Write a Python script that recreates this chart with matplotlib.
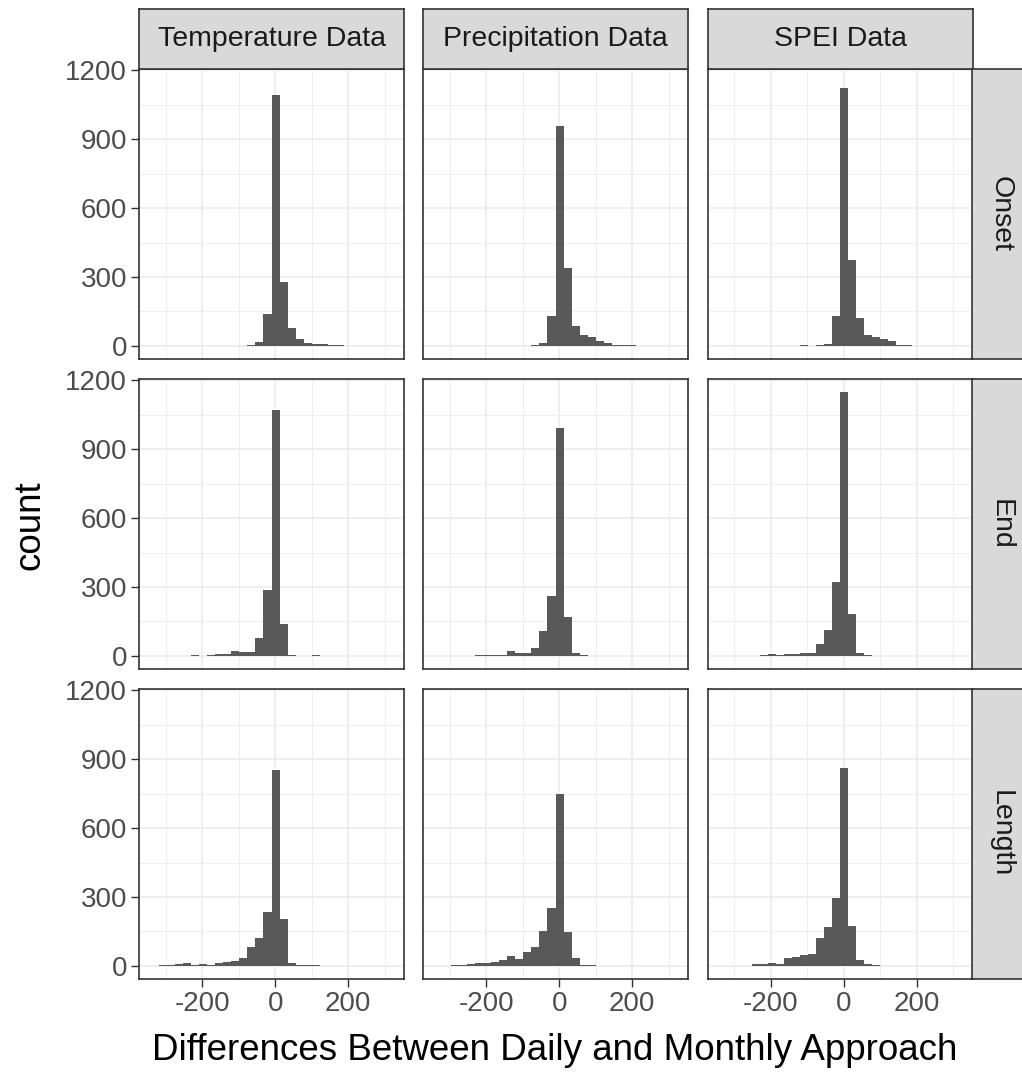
import matplotlib

matplotlib.use("Agg")
import matplotlib.ticker as ticker
from matplotlib import pyplot as plt

plt.rcParams["font.family"] = ["Liberation Sans", "DejaVu Sans"]
plt.rcParams["axes.unicode_minus"] = False

# histogram bins (left edges, width 22)
bin_left = [
    -340, -318, -296, -274, -252, -230, -208, -186, -164, -142,
    -120, -98, -76, -54, -32, -10, 12, 34, 56, 78,
    100, 122, 144, 166, 188, 210, 232, 254, 276, 298,
]
bin_width = 22

datasets = ["Temperature Data", "Precipitation Data", "SPEI Data"]
measures = ["Onset", "End", "Length"]

temp_onset = [0, 0, 0, 0, 0, 0, 0, 0, 0, 0, 0, 1, 2, 15, 139, 1091, 280, 77, 29, 14, 10, 7, 4, 2, 1, 0, 0, 0, 0, 0]
precip_onset = [0, 0, 0, 0, 0, 0, 0, 0, 0, 0, 0, 1, 2, 12, 128, 957, 338, 87, 48, 38, 19, 14, 4, 2, 2, 1, 0, 0, 0, 0]
spei_onset = [0, 0, 0, 0, 0, 0, 0, 0, 0, 0, 2, 1, 2, 9, 128, 1125, 374, 120, 48, 38, 29, 19, 3, 2, 1, 1, 0, 0, 0, 0]

temp_end = [0, 0, 0, 0, 1, 2, 1, 3, 8, 10, 20, 15, 15, 77, 287, 1072, 139, 4, 1, 1, 2, 0, 0, 0, 0, 0, 0, 0, 0, 0]
precip_end = [0, 0, 0, 0, 1, 2, 3, 4, 5, 23, 12, 14, 33, 106, 261, 994, 171, 14, 2, 1, 0, 0, 0, 0, 0, 0, 0, 0, 0, 0]
spei_end = [0, 0, 0, 0, 0, 2, 7, 3, 7, 10, 12, 14, 52, 113, 320, 1149, 181, 14, 4, 1, 1, 0, 0, 0, 0, 0, 0, 0, 0, 0]

temp_length = [0, 2, 3, 6, 14, 5, 7, 5, 14, 17, 22, 32, 80, 123, 236, 855, 205, 12, 3, 2, 2, 1, 1, 0, 0, 0, 0, 0, 0, 0]
precip_length = [1, 1, 3, 4, 7, 12, 12, 17, 25, 43, 29, 61, 82, 152, 250, 751, 149, 32, 4, 2, 1, 0, 0, 0, 0, 0, 0, 0, 0, 0]
spei_length = [0, 0, 0, 1, 7, 8, 14, 7, 36, 38, 46, 50, 120, 170, 296, 864, 173, 25, 7, 2, 1, 0, 0, 0, 0, 0, 0, 0, 0, 0]

counts = [
    [temp_onset, precip_onset, spei_onset],
    [temp_end, precip_end, spei_end],
    [temp_length, precip_length, spei_length],
]

x_major = [-200, 0, 200]
y_major = [0, 300, 600, 900, 1200]

W, H = 1022, 1075
fig = plt.figure(figsize=(W / 100, H / 100), dpi=100)


def px_axes(x0, y0, x1, y1):
    return fig.add_axes([x0 / W, 1 - y1 / H, (x1 - x0) / W, (y1 - y0) / H])


col_left = [139, 423, 707.5]
col_w = 265
row_top = [69, 379, 689]
row_h = 290

border = "#333333"
x_lo = bin_left[0]
x_hi = bin_left[-1] + bin_width
x_pad = 0.05 * (x_hi - x_lo)
y_max = max(max(c) for row in counts for c in row)

for r in range(3):
    for c in range(3):
        ax = px_axes(col_left[c], row_top[r], col_left[c] + col_w, row_top[r] + row_h)
        ax.bar(bin_left, counts[r][c], width=bin_width, align="edge",
               color="#595959", linewidth=0, zorder=3)
        ax.set_xlim(x_lo - x_pad, x_hi + x_pad)
        ax.set_ylim(-0.05 * y_max, 1.05 * y_max)
        ax.xaxis.set_major_locator(ticker.FixedLocator(x_major))
        ax.xaxis.set_minor_locator(ticker.FixedLocator([-300, -100, 100, 300]))
        ax.yaxis.set_major_locator(ticker.FixedLocator(y_major))
        ax.yaxis.set_minor_locator(ticker.FixedLocator([150, 450, 750, 1050]))
        ax.grid(True, which="major", color="#EBEBEB", linewidth=1.1, zorder=0)
        ax.grid(True, which="minor", color="#EBEBEB", linewidth=0.55, zorder=0)
        ax.set_axisbelow(True)
        for s in ax.spines.values():
            s.set_color(border)
            s.set_linewidth(1.2)
        ax.tick_params(which="minor", length=0)
        ax.tick_params(which="major", length=5.5, width=1.0, color=border,
                       labelsize=20, labelcolor="#4D4D4D", pad=3)
        if c != 0:
            ax.tick_params(axis="y", which="major", length=0, labelleft=False)
        if r != 2:
            ax.tick_params(axis="x", which="major", length=0, labelbottom=False)

        # top strips
        if r == 0:
            st = px_axes(col_left[c], 9, col_left[c] + col_w, row_top[0])
            st.set_facecolor("#D9D9D9")
            st.set_xticks([])
            st.set_yticks([])
            for s in st.spines.values():
                s.set_color(border)
                s.set_linewidth(1.2)
            st.text(0.5, 0.5, datasets[c], ha="center", va="center",
                    fontsize=20.5, color="#1A1A1A", transform=st.transAxes)

    # right strips
    st = px_axes(972, row_top[r], 1030, row_top[r] + row_h)
    st.set_facecolor("#D9D9D9")
    st.set_xticks([])
    st.set_yticks([])
    for s in st.spines.values():
        s.set_color(border)
        s.set_linewidth(1.2)
    st.text(29 / 58, 0.5, measures[r], ha="center", va="center", rotation=-90,
            fontsize=20.5, color="#1A1A1A", transform=st.transAxes)

fig.text(30 / W, 1 - 525 / H, "count", rotation=90, ha="center", va="center",
         fontsize=26.5, color="black")
fig.text(555 / W, 1 - 1050 / H, "Differences Between Daily and Monthly Approach",
         ha="center", va="center", fontsize=26.5, color="black")

fig.savefig("out.png", dpi=100, facecolor="white")
